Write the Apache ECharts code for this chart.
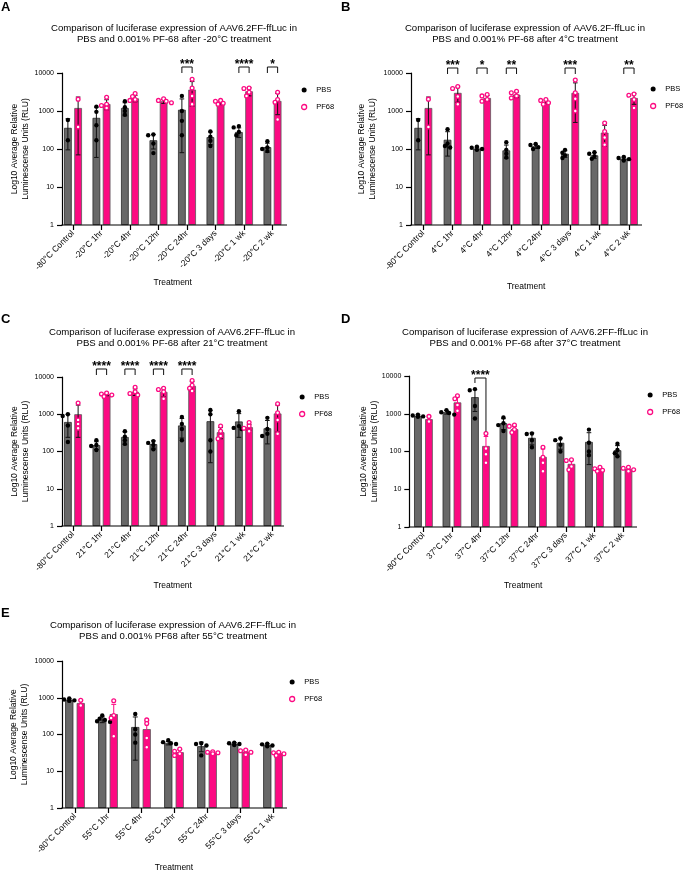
<!DOCTYPE html>
<html><head><meta charset="utf-8">
<script src="https://cdn.jsdelivr.net/npm/echarts@6.0.0/dist/echarts.min.js"></script>
<style>html,body{margin:0;padding:0;background:#fff}#c{width:685px;height:873px}</style>
</head><body><div id="c"></div>
<script>
const FONT = '"Liberation Sans", Arial, Helvetica, sans-serif';
const PINK = '#fc0a82';
const GRAY = '#686868';
const yTicks = [1, 10, 100, 1000, 10000];
const yAxisName = 'Log10 Average Relative\nLuminescense Units (RLU)';

// ---------- Panel A (-20°C) ----------
const catsA = ['-80°C Control','-20°C 1hr','-20°C 4hr','-20°C 12hr','-20°C 24hr','-20°C 3 days','-20°C 1 wk','-20°C 2 wk'];
const pbsMeanA = [360, 660, 1200, 170, 1080, 205, 280, 112];
const pbsSdA = [265, 600, 450, 70, 1000, 75, 80, 30];
const pf68MeanA = [1200, 1530, 2150, 1800, 3650, 1650, 3300, 1850];
const pf68SdA = [1130, 450, 400, 220, 2300, 180, 800, 1050];
const pbsPtsA = [[580,170],[1300,950,420,170],[1800,1250,1000,800],[240,230,140,78],[2500,1000,550,230],[290,210,165,120],[400,370,280,230],[160,110,100,88]];
const pf68PtsA = [[2050,380],[2300,1500,1400,1200],[2900,2400,2000,1900],[2100,1900,1800,1650],[6800,4000,2500,1500],[1900,1800,1600,1500],[4000,3900,3100,2500],[3100,2000,1700,600]];
const sigCatsA = [4, 6, 7];
const sigTextA = ['***', '****', '*'];

// ---------- Panel B (4°C) ----------
const catsB = ['-80°C Control','4°C 1hr','4°C 4hr','4°C 12hr','4°C 24hr','4°C 3 days','4°C 1 wk','4°C 2 wk'];
const pbsMeanB = [360, 175, 103, 92, 118, 75, 68, 56];
const pbsSdB = [265, 110, 8, 35, 15, 15, 12, 5];
const pf68MeanB = [1200, 3000, 2200, 2700, 1750, 3000, 270, 2200];
const pf68SdB = [1130, 1300, 350, 450, 200, 2500, 150, 700];
const pbsPtsB = [[580,170],[330,140,120,110],[115,108,100,95],[150,95,75,60],[135,128,112,100],[95,80,68,58],[82,75,65,55],[62,58,54,50]];
const pf68PtsB = [[2050,380],[4400,3900,2400,1500],[2700,2500,2000,1800],[3300,3000,2500,2200],[2000,1900,1650,1500],[6500,3000,2100,1000],[480,290,200,130],[2800,2600,2000,1200]];
const sigCatsB = [1, 2, 3, 5, 7];
const sigTextB = ['***', '*', '**', '***', '**'];

// ---------- Panel C (21°C) ----------
const catsC = ['-80°C Control','21°C 1hr','21°C 4hr','21°C 12hr','21°C 24hr','21°C 3 days','21°C 1 wk','21°C 2 wk'];
const pbsMeanC = [620, 148, 245, 158, 500, 650, 640, 420];
const pbsSdC = [380, 35, 90, 35, 270, 600, 400, 260];
const pf68MeanC = [1000, 3400, 4000, 4000, 5800, 330, 450, 1050];
const pf68SdC = [760, 250, 800, 1100, 1700, 110, 80, 720];
const pbsPtsC = [[1000,900,500,180],[200,150,140,110],[350,250,200,160],[190,170,150,115],[850,550,400,200],[1300,1000,200,100],[1200,480,430,400],[800,400,300,260]];
const pf68PtsC = [[2000,700,550,420],[3700,3500,3300,3000],[5300,4000,3600,3300],[5000,4600,4000,2600],[8000,6000,5000,4200],[480,350,260,220],[600,480,420,350],[1900,1100,700,300]];
const sigCatsC = [1, 2, 3, 4];
const sigTextC = ['****', '****', '****', '****'];

// ---------- Panel D (37°C) ----------
const catsD = ['-80°C Control','37°C 1hr','37°C 4hr','37°C 12hr','37°C 24hr','37°C 3 days','37°C 1 wk','37°C 2 wk'];
const pbsMeanD = [880, 1100, 2750, 560, 230, 170, 180, 108];
const pbsSdD = [50, 120, 1600, 180, 80, 55, 135, 35];
const pf68MeanD = [720, 2000, 140, 390, 72, 47, 33, 34];
const pf68SdD = [140, 800, 110, 70, 45, 12, 3, 3];
const pbsPtsD = [[950,900,850,830],[1250,1100,1050,950],[4500,4200,1600,750],[800,560,500,350],[300,290,200,130],[220,200,150,100],[380,170,100,80],[160,110,90,75]];
const pf68PtsD = [[850,620],[3000,2500,1700,1200],[300,120,85,50],[500,470,380,320],[130,70,50,30],[60,58,40,33],[38,35,32,30],[38,36,33,30]];
const sigCatsD = [2];
const sigTextD = ['****'];

// ---------- Panel E (55°C) ----------
const catsE = ['-80°C Control','55°C 1hr','55°C 4hr','55°C 12hr','55°C 24hr','55°C 3 days','55°C 1 wk'];
const pbsMeanE = [880, 255, 160, 58, 48, 56, 52];
const pbsSdE = [50, 45, 140, 6, 14, 4, 4];
const pf68MeanE = [720, 360, 140, 33, 32, 34, 31];
const pf68SdE = [140, 300, 95, 6, 2, 4, 3];
const pbsPtsE = [[950,900,850,820],[330,270,250,230,220],[360,140,100,60],[70,62,58,55],[58,55,50,27],[60,58,55,52],[56,54,50,48]];
const pf68PtsE = [[850,620],[830,330,280,90],[250,200,80,45],[40,35,30,27],[34,33,32,30],[38,36,33,28],[33,32,30,27]];
const sigCatsE = [];
const sigTextE = [];

const titleA = 'Comparison of luciferase expression of AAV6.2FF-ffLuc in\nPBS and 0.001% PF-68 after -20°C treatment';
const titleB = 'Comparison of luciferase expression of AAV6.2F-ffLuc in\nPBS and 0.001% PF-68 after 4°C treatment';
const titleC = 'Comparison of luciferase expression of AAV6.2FF-ffLuc in\nPBS and 0.001% PF-68 after 21°C treatment';
const titleD = 'Comparison of luciferase expression of AAV6.2FF-ffLuc in\nPBS and 0.001% PF-68 after 37°C treatment';
const titleE = 'Comparison of luciferase expression of AAV6.2FF-ffLuc in\nPBS and 0.001% PF68 after 55°C treatment';

// layout: axisX = y-axis line position, axisEnd = right end of x-axis line,
// band = region covered by the categories
const panels = [
  {letter:'A', title:titleA, cats:catsA, pbsMean:pbsMeanA, pbsSd:pbsSdA, pf68Mean:pf68MeanA, pf68Sd:pf68SdA, pbsPts:pbsPtsA, pf68Pts:pf68PtsA, sigCats:sigCatsA, sigText:sigTextA,
   axisX:62, axisEnd:287, bandLeft:58.75, bandWidth:228, top:73, height:152, bw:7.7, gap:0.33,
   titleX:174, titleY:22.5, letterPos:[1,1], legendPos:[301,86], yNameGap:31, xNameGap:53, errPink:false, bracketDy:-6, bracketToData:false},
  {letter:'B', title:titleB, cats:catsB, pbsMean:pbsMeanB, pbsSd:pbsSdB, pf68Mean:pf68MeanB, pf68Sd:pf68SdB, pbsPts:pbsPtsB, pf68Pts:pf68PtsB, sigCats:sigCatsB, sigText:sigTextB,
   axisX:411, axisEnd:642, bandLeft:408.6, bandWidth:235, top:73, height:152, bw:7.7, gap:0.33,
   titleX:525, titleY:22.5, letterPos:[341,1], legendPos:[650,85], yNameGap:33, xNameGap:57, errPink:false, bracketDy:-5, bracketToData:false},
  {letter:'C', title:titleC, cats:catsC, pbsMean:pbsMeanC, pbsSd:pbsSdC, pf68Mean:pf68MeanC, pf68Sd:pf68SdC, pbsPts:pbsPtsC, pf68Pts:pf68PtsC, sigCats:sigCatsC, sigText:sigTextC,
   axisX:62, axisEnd:284, bandLeft:58.75, bandWidth:228, top:377, height:149, bw:7.7, gap:0.33,
   titleX:172, titleY:326.5, letterPos:[1,313], legendPos:[299,393], yNameGap:31, xNameGap:55, errPink:false, bracketDy:-8, bracketToData:false},
  {letter:'D', title:titleD, cats:catsD, pbsMean:pbsMeanD, pbsSd:pbsSdD, pf68Mean:pf68MeanD, pf68Sd:pf68SdD, pbsPts:pbsPtsD, pf68Pts:pf68PtsD, sigCats:sigCatsD, sigText:sigTextD,
   axisX:409.3, axisEnd:637, bandLeft:409.2, bandWidth:228, top:376, height:151, bw:7.7, gap:0.43,
   titleX:525, titleY:326.5, letterPos:[341,313], legendPos:[647,391], yNameGap:29, xNameGap:54, errPink:true, bracketDy:2, bracketToData:true},
  {letter:'E', title:titleE, cats:catsE, pbsMean:pbsMeanE, pbsSd:pbsSdE, pf68Mean:pf68MeanE, pf68Sd:pf68SdE, pbsPts:pbsPtsE, pf68Pts:pf68PtsE, sigCats:sigCatsE, sigText:sigTextE,
   axisX:62, axisEnd:287, bandLeft:58.5, bandWidth:231, top:661, height:150, bw:8.2, gap:0.40,
   titleX:173, titleY:619.5, letterPos:[1,607], legendPos:[289,678], yNameGap:32, xNameGap:55, errPink:true, bracketDy:-6, bracketToData:false}
];

const SLOT = 2.6, DEC = 38;

function jitterSlots(vals) {
  const order = vals.map((v, i) => i).sort((a, b) => vals[b] - vals[a]);
  const placed = [], slots = new Array(vals.length).fill(0);
  const tries = [0, -1, 1, -2, 2, -3, 3];
  order.forEach(i => {
    const lv = Math.log10(vals[i]);
    for (const s of tries) {
      const hit = placed.some(p => Math.hypot((s - p.s) * SLOT, (lv - p.lv) * DEC) < 3.6);
      if (!hit) { slots[i] = s; placed.push({s, lv}); break; }
    }
  });
  return slots;
}

function off(p) { return p.bw * (1 + p.gap) / 2; }

function errRender(p) {
  return function (params, api) {
    const cs = params.coordSys;
    const cat = api.value(0), mean = api.value(1), sd = api.value(2), s = api.value(3);
    const cx = api.coord([cat, mean])[0] + (s ? 1 : -1) * off(p);
    const yTop = api.coord([cat, mean + sd])[1];
    const lo = mean - sd;
    const yBot = lo > 1 ? api.coord([cat, lo])[1] : cs.y + cs.height;
    const hw = p.bw * 0.3;
    const st = {stroke: (s && p.errPink) ? PINK : '#111', lineWidth: 1};
    const ch = [
      {type: 'line', shape: {x1: cx, y1: yTop, x2: cx, y2: yBot}, style: st},
      {type: 'line', shape: {x1: cx - hw, y1: yTop, x2: cx + hw, y2: yTop}, style: st}
    ];
    if (lo > 1) ch.push({type: 'line', shape: {x1: cx - hw, y1: yBot, x2: cx + hw, y2: yBot}, style: st});
    return {type: 'group', children: ch};
  };
}

function ptRender(p) {
  return function (params, api) {
    const cat = api.value(0), v = api.value(1), s = api.value(2), slot = api.value(3);
    const pt = api.coord([cat, v]);
    const cx = pt[0] + (s ? 1 : -1) * off(p) + slot * SLOT;
    return s
      ? {type: 'circle', shape: {cx: cx, cy: pt[1], r: 1.9}, style: {fill: '#fff', stroke: PINK, lineWidth: 1.3}}
      : {type: 'circle', shape: {cx: cx, cy: pt[1], r: 2.2}, style: {fill: '#000'}};
  };
}

function brRender(p) {
  return function (params, api) {
    const cs = params.coordSys;
    const cat = api.value(0), top = api.value(1);
    const c = api.coord([cat, 1000])[0];
    const x1 = c - off(p), x2 = c + off(p);
    const y = cs.y + p.bracketDy;
    const yl = y + (p.bracketToData ? 5 : 6);
    const yr = p.bracketToData ? api.coord([cat, top])[1] - 5 : y + 6;
    return {type: 'group', children: [
      {type: 'polyline', shape: {points: [[x1, yl], [x1, y], [x2, y], [x2, yr]]}, style: {stroke: '#111', lineWidth: 1, fill: null}},
      {type: 'text', style: {text: p.sigText[params.dataIndex], x: (x1 + x2) / 2, y: y - 2, align: 'center', verticalAlign: 'middle', font: 'bold 12px ' + FONT, fill: '#000'}}
    ]};
  };
}

function baseRender(p) {
  return function (params, api) {
    const cs = params.coordSys;
    const y = cs.y + cs.height;
    const x1 = cs.x + (p.axisX - p.bandLeft);
    const x2 = cs.x + cs.width + (p.axisEnd - p.bandLeft - p.bandWidth);
    return {type: 'line', shape: {x1: x1 - 0.6, y1: y, x2: x2, y2: y}, style: {stroke: '#000', lineWidth: 1.2}};
  };
}

const option = {
  animation: false,
  backgroundColor: '#fff',
  textStyle: {fontFamily: FONT},
  title: [], legend: [], grid: [], xAxis: [], yAxis: [], series: []
};

panels.forEach((p, gi) => {
  option.grid.push({left: p.bandLeft, top: p.top, width: p.bandWidth, height: p.height, containLabel: false});
  option.title.push({text: p.title, left: p.titleX, top: p.titleY, textAlign: 'center', padding: 0,
    textStyle: {fontSize: 9.6, fontWeight: 'normal', lineHeight: 11.5, color: '#000', fontFamily: FONT}});
  option.title.push({text: p.letter, left: p.letterPos[0], top: p.letterPos[1], padding: 0,
    textStyle: {fontSize: 13, fontWeight: 'bold', color: '#000', fontFamily: FONT}});
  option.legend.push({left: p.legendPos[0], top: p.legendPos[1], orient: 'vertical', itemWidth: 14, itemHeight: 5, itemGap: 9, padding: 0,
    selectedMode: false, textStyle: {fontSize: 7.5, color: '#000', fontFamily: FONT},
    data: [{name: 'PBS', icon: 'circle', itemStyle: {color: '#000', borderWidth: 0}},
           {name: 'PF68', icon: 'circle', itemStyle: {color: '#fff', borderColor: PINK, borderWidth: 1.3}}]});
  option.xAxis.push({type: 'category', gridIndex: gi, data: p.cats, boundaryGap: true,
    axisLine: {show: false},
    axisTick: {show: true, alignWithLabel: true, length: 5, lineStyle: {color: '#000', width: 1.2}},
    axisLabel: {rotate: 45, interval: 0, fontSize: 8.5, color: '#000', margin: 7, fontFamily: FONT},
    name: 'Treatment', nameLocation: 'middle', nameGap: p.xNameGap,
    nameTextStyle: {fontSize: 8.5, color: '#000', fontFamily: FONT}});
  option.yAxis.push({type: 'log', logBase: 10, gridIndex: gi, min: yTicks[0], max: yTicks[yTicks.length - 1],
    offset: p.bandLeft - p.axisX,
    axisLine: {show: true, lineStyle: {color: '#000', width: 1.2}},
    axisTick: {show: true, length: 5, lineStyle: {color: '#000', width: 1.2}},
    splitLine: {show: false},
    axisLabel: {fontSize: 7, color: '#000', margin: 8, fontFamily: FONT, formatter: v => String(Math.round(v))},
    name: yAxisName, nameLocation: 'middle', nameRotate: 90, nameGap: p.yNameGap, nameMoveOverlap: false,
    nameTextStyle: {fontSize: 8.5, lineHeight: 11, color: '#000', fontFamily: FONT}});

  option.series.push({type: 'bar', name: 'PBS', xAxisIndex: gi, yAxisIndex: gi, data: p.pbsMean,
    barWidth: p.bw, barGap: (p.gap * 100) + '%',
    itemStyle: {color: GRAY, borderColor: '#2a2a2a', borderWidth: 0.8}});
  option.series.push({type: 'bar', name: 'PF68', xAxisIndex: gi, yAxisIndex: gi, data: p.pf68Mean,
    barWidth: p.bw, barGap: (p.gap * 100) + '%',
    itemStyle: {color: PINK, borderColor: '#5a5a5a', borderWidth: 0.8}});

  option.series.push({type: 'custom', name: 'base' + gi, xAxisIndex: gi, yAxisIndex: gi, renderItem: baseRender(p),
    data: [[0, 1]], encode: {x: 0, y: 1}, clip: false, silent: true, z: 6});

  const errData = [];
  p.cats.forEach((c, i) => {
    errData.push([i, p.pbsMean[i], p.pbsSd[i], 0]);
    errData.push([i, p.pf68Mean[i], p.pf68Sd[i], 1]);
  });
  option.series.push({type: 'custom', name: 'err' + gi, xAxisIndex: gi, yAxisIndex: gi, renderItem: errRender(p),
    data: errData, encode: {x: 0, y: 1}, clip: false, silent: true, z: 3});

  const ptData = [];
  p.cats.forEach((c, i) => {
    const s0 = jitterSlots(p.pbsPts[i]);
    p.pbsPts[i].forEach((v, k) => ptData.push([i, v, 0, s0[k]]));
    const s1 = jitterSlots(p.pf68Pts[i]);
    p.pf68Pts[i].forEach((v, k) => ptData.push([i, v, 1, s1[k]]));
  });
  option.series.push({type: 'custom', name: 'pts' + gi, xAxisIndex: gi, yAxisIndex: gi, renderItem: ptRender(p),
    data: ptData, encode: {x: 0, y: 1}, clip: false, silent: true, z: 4});

  if (p.sigCats.length) {
    const brData = p.sigCats.map(i => [i, p.pf68Mean[i] + p.pf68Sd[i]]);
    option.series.push({type: 'custom', name: 'sig' + gi, xAxisIndex: gi, yAxisIndex: gi, renderItem: brRender(p),
      data: brData, encode: {x: 0, y: 1}, clip: false, silent: true, z: 5});
  }
});

const chart = echarts.init(document.getElementById('c'), null, {renderer: 'canvas'});
chart.setOption(option);
</script></body></html>
